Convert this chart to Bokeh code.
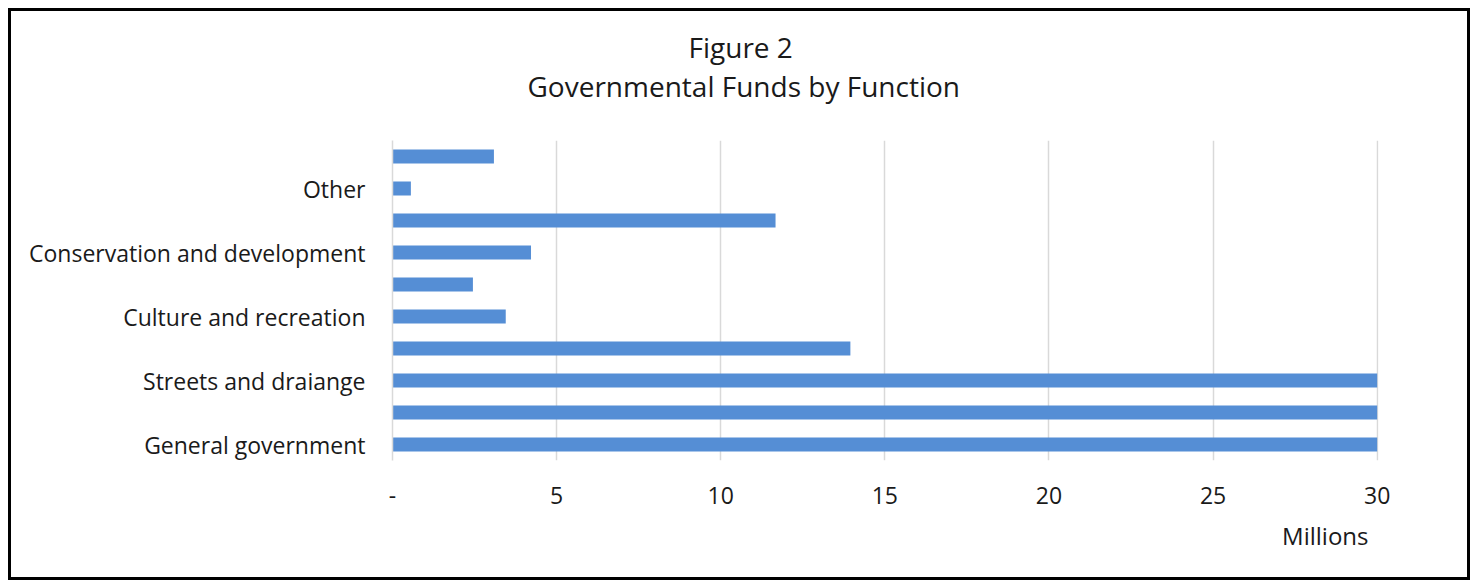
from bokeh.plotting import figure
from bokeh.models import Range1d, FixedTicker, Title
from bokeh.embed import file_html
from bokeh.resources import INLINE

# Data (bottom to top, as drawn)
categories = ["General government", "Public safety", "Streets and draiange", "Sanitation",
              "Culture and recreation", "Health and welfare", "Conservation and development",
              "Capital outlay", "Other", "Debt service"]
values = [30.0, 30.0, 30.0, 13.95, 3.45, 2.45, 4.22, 11.67, 0.56, 3.09]  # millions
shown_labels = [True, False, True, False, True, False, True, False, True, False]
x_ticks = [0, 5, 10, 15, 20, 25, 30]
x_tick_labels = ["-", "5", "10", "15", "20", "25", "30"]

FONT = "Open Sans"
TXT = "#1a1a1a"

p = figure(width=1456, height=566, output_backend="svg", toolbar_location=None,
           x_range=Range1d(0, 30.04), y_range=Range1d(-0.5, len(categories) - 0.5),
           min_border_left=381, min_border_right=95, min_border_top=129, min_border_bottom=123)
p.styles = {"border": "3px solid black", "margin": "8px", "box-sizing": "content-box"}
p.outline_line_color = None
p.background_fill_color = "white"
p.border_fill_color = "white"

ys = list(range(len(categories)))
p.hbar(y=ys, right=values, left=0, height=0.44, color="#558ED5", line_color=None)

# x axis
xa = p.xaxis[0]
xa.ticker = FixedTicker(ticks=x_ticks)
xa.major_label_overrides = {t: l for t, l in zip(x_ticks, x_tick_labels)}
xa.axis_line_color = None
xa.major_tick_line_color = None
xa.minor_tick_line_color = None
xa.major_label_standoff = 20
xa.major_label_text_font = FONT
xa.major_label_text_font_size = "23px"
xa.major_label_text_color = TXT

# y axis
ya = p.yaxis[0]
ya.ticker = FixedTicker(ticks=[i for i, s in zip(ys, shown_labels) if s])
ya.major_label_overrides = {i: c for i, c, s in zip(ys, categories, shown_labels) if s}
ya.axis_line_color = "#d9d9d9"
ya.axis_line_width = 1.5
ya.major_tick_line_color = None
ya.minor_tick_line_color = None
ya.major_label_standoff = 21
ya.major_label_text_font = FONT
ya.major_label_text_font_size = "23px"
ya.major_label_text_color = TXT

p.ygrid.grid_line_color = None
p.xgrid.ticker = FixedTicker(ticks=x_ticks)
p.xgrid.grid_line_color = "#d9d9d9"
p.xgrid.grid_line_width = 1.5

# units label below the axis, right-aligned
p.add_layout(Title(text="Millions", align="right", offset=10, standoff=20,
                   text_font=FONT, text_font_size="24px", text_font_style="normal",
                   text_color=TXT), "below")

# two-line title
p.add_layout(Title(text="Governmental Funds by Function", align="left", offset=135,
                   standoff=72, text_font=FONT, text_font_size="28px",
                   text_font_style="normal", text_color=TXT), "above")
p.add_layout(Title(text="Figure 2", align="left", offset=296, standoff=-74,
                   text_font=FONT, text_font_size="28px", text_font_style="normal",
                   text_color=TXT), "above")

open("out.html", "w").write(file_html(p, INLINE))
